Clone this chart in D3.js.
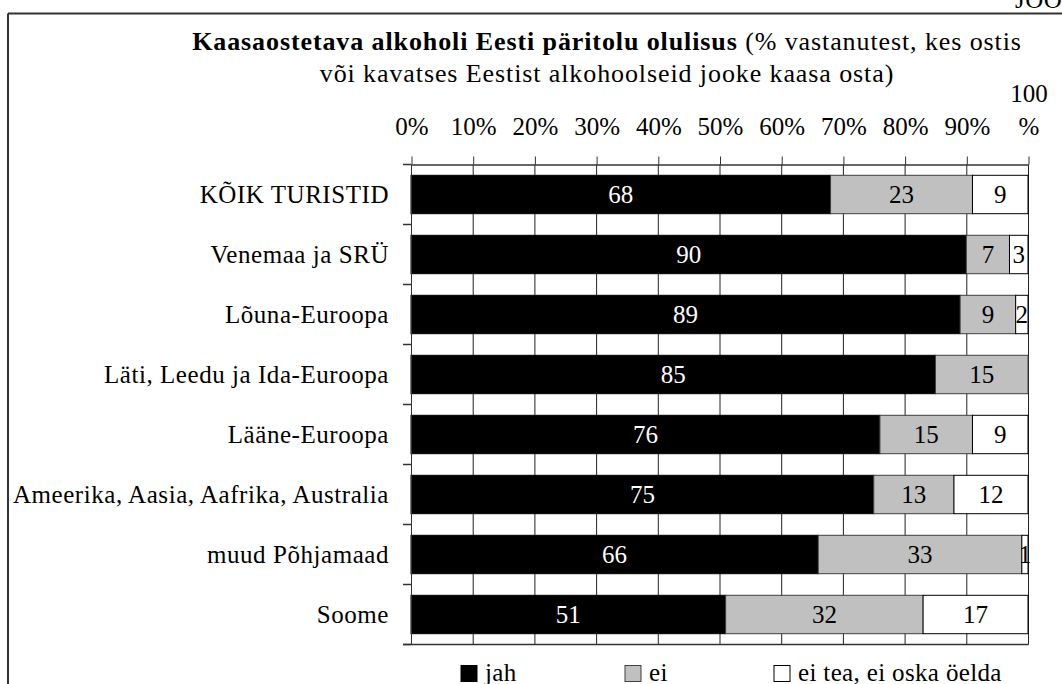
<!DOCTYPE html>
<html>
<head>
<meta charset="utf-8">
<script src="https://cdn.jsdelivr.net/npm/d3@7"></script>
<style>
  body { margin: 0; background: #fff; }
  svg { display: block; font-family: "Liberation Serif", "Times New Roman", serif; }
</style>
</head>
<body>
<svg id="chart" width="1062" height="684"></svg>
<script>
// data
const categories = [
  "KÕIK TURISTID",
  "Venemaa ja SRÜ",
  "Lõuna-Euroopa",
  "Läti, Leedu ja Ida-Euroopa",
  "Lääne-Euroopa",
  "Ameerika, Aasia, Aafrika, Australia",
  "muud Põhjamaad",
  "Soome"
];
const jah = [68, 90, 89, 85, 76, 75, 66, 51];
const ei = [23, 7, 9, 15, 15, 13, 33, 32];
const eiTea = [9, 3, 2, 0, 9, 12, 1, 17];
const seriesNames = ["jah", "ei", "ei tea, ei oska öelda"];
const xTicks = [0, 10, 20, 30, 40, 50, 60, 70, 80, 90, 100];

const svg = d3.select("#chart");
const fs = 25;

const x = d3.scaleLinear().domain([0, 100]).range([411, 1028]);
const y = d3.scaleBand()
  .domain(categories)
  .range([164.5, 644.5])
  .paddingInner(0.36)
  .paddingOuter(0.18);

const rows = categories.map((c, i) => ({ cat: c, jah: jah[i], ei: ei[i], eiTea: eiTea[i] }));
const stack = d3.stack().keys(["jah", "ei", "eiTea"])(rows);
const fills = ["#000000", "#c0c0c0", "#ffffff"];
const strokes = ["#000000", "#404040", "#000000"];
const textColors = ["#ffffff", "#000000", "#000000"];

// frame
svg.append("line").attr("x1", 8).attr("x2", 1062).attr("y1", 13.5).attr("y2", 13.5)
  .attr("stroke", "#333").attr("stroke-width", 2);
svg.append("line").attr("x1", 8).attr("x2", 8).attr("y1", 13.5).attr("y2", 684)
  .attr("stroke", "#333").attr("stroke-width", 2);
svg.append("text").attr("x", 1015).attr("y", 8).attr("font-size", fs)
  .attr("letter-spacing", 0.5).text("JOO");

// title
const title = svg.append("text").attr("x", 607).attr("y", 50)
  .attr("text-anchor", "middle").attr("font-size", 26).attr("letter-spacing", 0.9);
title.append("tspan").attr("font-weight", "bold").text("Kaasaostetava alkoholi Eesti päritolu olulisus");
title.append("tspan").text(" (% vastanutest, kes ostis");
svg.append("text").attr("x", 607).attr("y", 82)
  .attr("text-anchor", "middle").attr("font-size", 26).attr("letter-spacing", 0.9)
  .text("või kavatses Eestist alkohoolseid jooke kaasa osta)");

// gridlines
svg.append("g").selectAll("line").data(xTicks).join("line")
  .attr("x1", d => x(d) + 0.5).attr("x2", d => x(d) + 0.5)
  .attr("y1", 164.5).attr("y2", 644.5)
  .attr("stroke", "#222").attr("stroke-width", 1);

// top axis
const xAxis = svg.append("g").attr("transform", "translate(0.5,164.5)")
  .call(d3.axisTop(x).tickValues(xTicks).tickSize(8).tickSizeOuter(0).tickPadding(21.5)
    .tickFormat(d => d === 100 ? "" : d + "%"))
  .attr("font-family", null).attr("font-size", null);
xAxis.select(".domain").attr("stroke", "#333").attr("stroke-width", 1.5);
xAxis.selectAll(".tick line").attr("stroke", "#333");
xAxis.selectAll(".tick text").attr("font-size", fs).attr("fill", "#000");
const lastTick = xAxis.selectAll(".tick").filter(d => d === 100).select("text");
lastTick.append("tspan").attr("x", 0).attr("dy", "-1.32em").text("100");
lastTick.append("tspan").attr("x", 0).attr("dy", "1.32em").text("%");
svg.append("line").attr("x1", 403).attr("x2", 411).attr("y1", 164.5).attr("y2", 164.5)
  .attr("stroke", "#333").attr("stroke-width", 1.5);

// bars
const layers = svg.append("g").selectAll("g").data(stack).join("g");
layers.selectAll("rect").data((d, i) => d.map(s => ({ s, i }))).join("rect")
  .filter(d => d.s[1] > d.s[0])
  .attr("x", d => x(d.s[0]))
  .attr("y", d => y(d.s.data.cat))
  .attr("width", d => x(d.s[1]) - x(d.s[0]))
  .attr("height", y.bandwidth())
  .attr("fill", d => fills[d.i])
  .attr("stroke", d => strokes[d.i])
  .attr("stroke-width", 1);

layers.selectAll("text").data((d, i) => d.map(s => ({ s, i }))).join("text")
  .filter(d => d.s[1] > d.s[0])
  .attr("x", d => (x(d.s[0]) + x(d.s[1])) / 2)
  .attr("y", d => y(d.s.data.cat) + y.bandwidth() / 2 + 8.5)
  .attr("text-anchor", "middle")
  .attr("font-size", fs)
  .attr("fill", d => textColors[d.i])
  .text(d => d.s[1] - d.s[0]);

// left axis
svg.append("line").attr("x1", 411.5).attr("x2", 411.5).attr("y1", 164.5).attr("y2", 644.5)
  .attr("stroke", "#333").attr("stroke-width", 1);
const bounds = categories.map(c => y(c) - y.step() * y.paddingInner() / 2 + y.step());
svg.append("g").selectAll("line").data(bounds).join("line")
  .attr("x1", 403).attr("x2", 411).attr("y1", d => d).attr("y2", d => d)
  .attr("stroke", "#333").attr("stroke-width", 1.5);
svg.append("line").attr("x1", 403).attr("x2", 1028.5).attr("y1", 644.5).attr("y2", 644.5)
  .attr("stroke", "#333").attr("stroke-width", 1.5);
svg.append("g").selectAll("text").data(categories).join("text")
  .attr("x", 389)
  .attr("y", d => y(d) + y.bandwidth() / 2 + 8.5)
  .attr("text-anchor", "end")
  .attr("font-size", fs)
  .attr("letter-spacing", 0.55)
  .text(d => d);

// legend
const legendX = [461, 625, 774];
const legend = svg.append("g").selectAll("g").data(seriesNames).join("g")
  .attr("transform", (d, i) => `translate(${legendX[i]},665.5)`);
legend.append("rect").attr("width", 16).attr("height", 16)
  .attr("fill", (d, i) => fills[i]).attr("stroke", (d, i) => strokes[i]).attr("stroke-width", 1);
legend.append("text").attr("x", 24).attr("y", 15.5).attr("font-size", fs)
  .attr("letter-spacing", 0.35).text(d => d);
</script>
</body>
</html>
